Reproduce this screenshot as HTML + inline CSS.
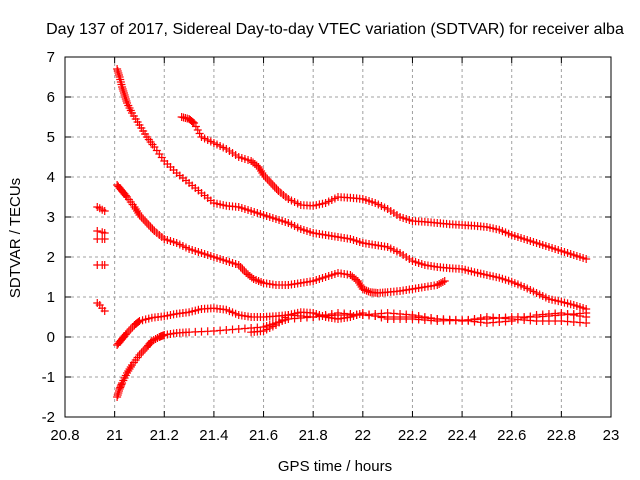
<!DOCTYPE html>
<html><head><meta charset="utf-8"><style>
body{margin:0;background:#fff}
svg{display:block;font-family:"Liberation Sans",sans-serif}
</style></head><body>
<svg id="c" width="640" height="480">
<text x="335" y="34" font-size="16" text-anchor="middle">Day 137 of 2017, Sidereal Day-to-day VTEC variation (SDTVAR) for receiver alba</text>
<text x="335" y="471" font-size="15" text-anchor="middle">GPS time / hours</text>
<text transform="translate(20,238) rotate(-90)" font-size="15" text-anchor="middle">SDTVAR / TECUs</text>
<g id="grid"></g>
<g id="marks"></g>
<rect x="65" y="57" width="546" height="360" fill="none" stroke="#000"/>
<g id="ticks"></g>
</svg>
<script>
const xTicks=[20.8,21,21.2,21.4,21.6,21.8,22,22.2,22.4,22.6,22.8,23];
const xTickLabels=["20.8","21","21.2","21.4","21.6","21.8","22","22.2","22.4","22.6","22.8","23"];
const yTicks=[-2,-1,0,1,2,3,4,5,6,7];
const yTickLabels=["-2","-1","0","1","2","3","4","5","6","7"];
const sA_x=[21.01,21.02,21.03,21.04,21.05,21.07,21.1,21.13,21.16,21.2,21.25,21.3,21.35,21.4,21.45,21.5,21.55,21.6,21.65,21.7,21.75,21.8,21.85,21.9,21.95,22.0,22.05,22.1,22.15,22.2,22.25,22.3,22.35,22.4,22.45,22.5,22.55,22.6,22.65,22.7,22.75,22.8,22.85,22.9];
const sA_y=[6.7,6.5,6.25,6.05,5.85,5.6,5.3,5.0,4.75,4.4,4.1,3.85,3.6,3.35,3.28,3.25,3.15,3.05,2.95,2.85,2.7,2.6,2.55,2.5,2.45,2.35,2.3,2.25,2.1,1.9,1.8,1.75,1.72,1.7,1.62,1.55,1.48,1.38,1.25,1.1,0.95,0.88,0.8,0.7];
const sB_x=[21.27,21.3,21.32,21.35,21.4,21.45,21.5,21.55,21.58,21.6,21.63,21.66,21.7,21.75,21.8,21.85,21.9,21.95,22.0,22.05,22.1,22.15,22.2,22.25,22.3,22.35,22.4,22.45,22.5,22.55,22.6,22.65,22.7,22.75,22.8,22.85,22.9];
const sB_y=[5.5,5.45,5.35,5.0,4.85,4.7,4.5,4.4,4.25,4.05,3.85,3.65,3.45,3.3,3.28,3.35,3.5,3.48,3.45,3.35,3.2,3.0,2.9,2.88,2.85,2.82,2.8,2.78,2.75,2.68,2.55,2.45,2.35,2.25,2.15,2.05,1.95];
const sC_x=[21.01,21.03,21.05,21.08,21.1,21.13,21.16,21.2,21.25,21.3,21.35,21.4,21.45,21.5,21.53,21.56,21.6,21.65,21.7,21.75,21.8,21.85,21.9,21.95,21.98,22.0,22.03,22.06,22.1,22.15,22.2,22.25,22.3,22.33];
const sC_y=[3.8,3.65,3.5,3.25,3.05,2.85,2.65,2.45,2.35,2.2,2.1,2.0,1.9,1.8,1.6,1.45,1.35,1.3,1.3,1.35,1.4,1.5,1.6,1.55,1.4,1.2,1.12,1.1,1.12,1.15,1.2,1.25,1.3,1.4];
const sD_x=[21.01,21.03,21.05,21.08,21.1,21.15,21.2,21.25,21.3,21.35,21.4,21.45,21.5,21.55,21.6,21.65,21.7,21.8,21.9,22.0,22.1,22.2,22.3,22.4,22.5,22.6,22.7,22.8,22.9];
const sD_y=[-0.2,-0.05,0.1,0.3,0.4,0.48,0.52,0.58,0.62,0.7,0.72,0.68,0.55,0.5,0.5,0.52,0.55,0.5,0.55,0.55,0.5,0.5,0.45,0.42,0.45,0.5,0.5,0.55,0.6];
const sE_x=[21.01,21.02,21.03,21.05,21.07,21.1,21.13,21.15,21.18,21.2,21.25,21.3,21.4,21.5,21.6,21.65,21.7,21.8,21.9,22.0,22.1,22.2,22.3,22.4,22.5,22.6,22.7,22.8,22.9];
const sE_y=[-1.5,-1.3,-1.15,-0.9,-0.7,-0.45,-0.25,-0.1,0.0,0.05,0.1,0.12,0.15,0.2,0.25,0.35,0.45,0.5,0.6,0.55,0.6,0.55,0.45,0.4,0.5,0.45,0.4,0.4,0.35];
const sF_x=[21.55,21.6,21.65,21.7,21.75,21.8,21.85,21.9,21.95,22.0,22.1,22.2,22.3,22.4,22.5,22.6,22.7,22.8,22.9];
const sF_y=[0.12,0.15,0.3,0.55,0.62,0.6,0.5,0.45,0.5,0.6,0.45,0.45,0.4,0.42,0.35,0.4,0.55,0.6,0.5];
const sG_x=[20.93,20.94,20.95,20.96,20.93,20.95,20.96,20.93,20.95,20.96,20.93,20.95,20.96,20.93,20.94,20.95,20.96];
const sG_y=[3.25,3.22,3.18,3.15,2.65,2.62,2.6,2.45,2.45,2.45,1.8,1.8,1.8,0.85,0.8,0.72,0.65];
const L=65,R=611,T=57,B=417;
const X=v=>L+(v-20.8)/(23-20.8)*(R-L);
const Y=v=>B-(v+2)/9*(B-T);
const NS='http://www.w3.org/2000/svg';
function mk(t,a,p){const e=document.createElementNS(NS,t);for(const k in a)e.setAttribute(k,a[k]);p.appendChild(e);return e;}
const grid=document.getElementById('grid'),ticks=document.getElementById('ticks'),marks=document.getElementById('marks');
xTicks.forEach((v,i)=>{const x=X(v);
 if(i>0&&i<xTicks.length-1){const g=mk('line',{x1:x,x2:x,y1:T,y2:B,stroke:'#a0a0a0','stroke-dasharray':'3,3'},grid);
 
 }
 mk('line',{x1:x,x2:x,y1:B,y2:B-6,stroke:'#000'},ticks);mk('line',{x1:x,x2:x,y1:T,y2:T+6,stroke:'#000'},ticks);
 const t=mk('text',{x:x,y:B+23,'font-size':15,'text-anchor':'middle'},ticks);t.textContent=xTickLabels[i];
 
 });
yTicks.forEach((v,i)=>{const y=Y(v);
 if(i>0&&i<yTicks.length-1){const g=mk('line',{x1:L,x2:R,y1:y,y2:y,stroke:'#a0a0a0','stroke-dasharray':'3,3'},grid);
 
 }
 mk('line',{x1:L,x2:L+6,y1:y,y2:y,stroke:'#000'},ticks);mk('line',{x1:R,x2:R-6,y1:y,y2:y,stroke:'#000'},ticks);
 const t=mk('text',{x:L-10,y:y+5,'font-size':15,'text-anchor':'end'},ticks);t.textContent=yTickLabels[i];
 
 });
const series=[[sA_x,sA_y],[sB_x,sB_y],[sC_x,sC_y],[sD_x,sD_y],[sE_x,sE_y],[sF_x,sF_y],[sG_x,sG_y]];
series.forEach((s,si)=>{let d='';s[0].forEach((xv,i)=>{const x=X(xv),y=Y(s[1][i]);d+=`M${x-4},${y}h8M${x},${y-4}v8`;
 if(i<s[0].length-1&&si<6){const nx=X(s[0][i+1]),ny=Y(s[1][i+1]);for(let k=1;k<4;k++){const px=x+(nx-x)*k/4,py=y+(ny-y)*k/4;d+=`M${px-4},${py}h8M${px},${py-4}v8`;}}});
 const p=mk('path',{d:d,stroke:'#ff0000','stroke-width':1.2,fill:'none'},marks);
 
 });
</script>
</body></html>
